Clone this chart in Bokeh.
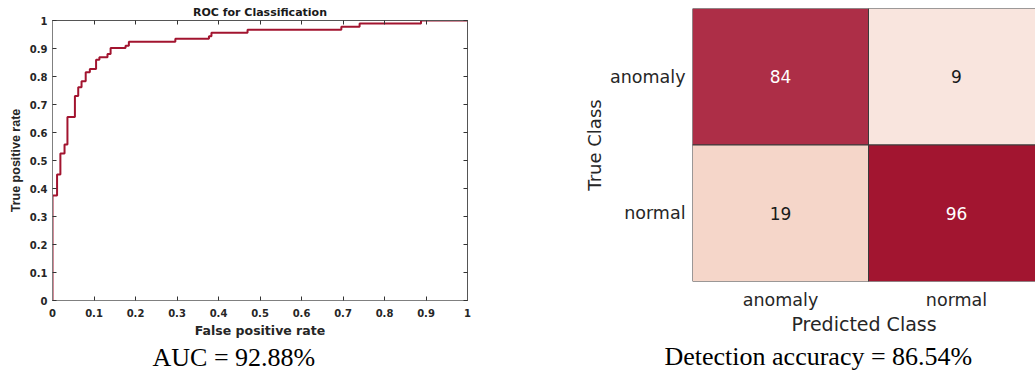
from bokeh.plotting import figure
from bokeh.models import Range1d, LinearAxis, FixedTicker, Title
from bokeh.core.properties import value
from bokeh.embed import file_html
from bokeh.resources import INLINE

# ---------------- ROC data ----------------
fpr = [0.0, 0.0, 0.011, 0.019, 0.029, 0.036, 0.054, 0.062, 0.070, 0.080, 0.090,
       0.105, 0.113, 0.1325, 0.140, 0.176, 0.184, 0.296, 0.377, 0.383, 0.470,
       0.696, 0.740, 0.888, 1.0]
tpr = [0.0, 0.375, 0.45, 0.525, 0.557, 0.655, 0.73, 0.762, 0.783, 0.815, 0.827,
       0.86, 0.869, 0.88, 0.902, 0.91, 0.924, 0.935, 0.944, 0.956, 0.967,
       0.978, 0.989, 1.0, 1.0]
roc_ticks = [0, 0.1, 0.2, 0.3, 0.4, 0.5, 0.6, 0.7, 0.8, 0.9, 1]
roc_tick_labels = ["0", "0.1", "0.2", "0.3", "0.4", "0.5", "0.6", "0.7", "0.8", "0.9", "1"]
roc_title = "ROC for Classification"
roc_xlabel = "False positive rate"
roc_ylabel = "True positive rate"
auc_text = "AUC = 92.88%"

# ---------------- Confusion matrix data ----------------
classes = ["anomaly", "normal"]
true_class = ["anomaly", "anomaly", "normal", "normal"]
pred_class = ["anomaly", "normal", "anomaly", "normal"]
counts = [84, 9, 19, 96]
cm_xlabel = "Predicted Class"
cm_ylabel = "True Class"
acc_text = "Detection accuracy = 86.54%"

# styles
cell_colors = ["#AD2E47", "#F9E5DE", "#F5D6C9", "#A21530"]
cell_text_colors = ["white", "#1a1a1a", "#1a1a1a", "white"]
LINE = "#A2142F"
TXT = "#262626"

# ================= Left: ROC =================
p1 = figure(width=500, height=376, x_range=Range1d(0, 1), y_range=Range1d(0, 1),
            output_backend="svg", toolbar_location=None,
            min_border_left=52, min_border_right=33, min_border_top=20, min_border_bottom=76,
            background_fill_color="white", border_fill_color="white")
p1.styles = {"position": "absolute", "left": "0px", "top": "0px"}
p1.step(fpr, tpr, mode="after", line_color=LINE, line_width=2)
p1.xgrid.visible = False
p1.ygrid.visible = False
p1.outline_line_color = "#555555"

p1.title.text = roc_title
p1.title.align = "center"
p1.title.text_font = "DejaVu Sans"
p1.title.text_font_style = "bold"
p1.title.text_font_size = "11px"
p1.title.text_color = "#1a1a1a"
p1.title.standoff = 4

overrides = {t: l for t, l in zip(roc_ticks, roc_tick_labels)}
for ax in (p1.xaxis[0], p1.yaxis[0]):
    ax.ticker = FixedTicker(ticks=roc_ticks)
    ax.major_label_overrides = overrides
    ax.major_tick_in = 4
    ax.major_tick_out = 0
    ax.major_tick_line_color = "#333333"
    ax.minor_tick_line_color = None
    ax.axis_line_color = "#808080"
    ax.major_label_text_font = "DejaVu Sans"
    ax.major_label_text_font_style = "bold"
    ax.major_label_text_font_size = "10px"
    ax.major_label_text_color = TXT
    ax.axis_label_text_font_style = "bold"
    ax.axis_label_text_color = TXT

p1.xaxis.axis_label = roc_xlabel
p1.xaxis.axis_label_text_font = "DejaVu Sans"
p1.xaxis.axis_label_text_font_size = "12.5px"
p1.xaxis.major_label_standoff = 8
p1.xaxis.axis_label_standoff = 3
p1.yaxis.axis_label = roc_ylabel
p1.yaxis.axis_label_text_font = "Liberation Sans"
p1.yaxis.axis_label_text_font_size = "12.5px"
p1.yaxis.major_label_standoff = 5
p1.yaxis.axis_label_standoff = 4

# tick marks only on the top and right edges (labels not drawn)
for loc in ("above", "right"):
    extra = LinearAxis(ticker=FixedTicker(ticks=roc_ticks),
                       major_label_text_font_size="1px", major_label_text_color=None,
                       major_label_standoff=0,
                       major_tick_in=4, major_tick_out=0, major_tick_line_color="#333333",
                       minor_tick_line_color=None, axis_line_color="#555555")
    p1.add_layout(extra, loc)

p1.add_layout(Title(text=auc_text, align="left", offset=100, standoff=1,
                    text_font="Liberation Serif", text_font_style="normal",
                    text_font_size="26px", text_color="black"), "below")

# ================= Right: confusion matrix =================
n = len(classes)
cx = [classes.index(c) + 0.5 for c in pred_class]
cy = [classes.index(c) + 0.5 for c in true_class]
centers = [i + 0.5 for i in range(n)]

p2 = figure(width=535, height=376, x_range=Range1d(0, 343 / 176), y_range=Range1d(n, 0),
            output_backend="svg", toolbar_location=None,
            min_border_left=192, min_border_right=0, min_border_top=8, min_border_bottom=95,
            background_fill_color="white", border_fill_color="white")
p2.styles = {"position": "absolute", "left": "500px", "top": "0px"}
p2.rect(x=cx, y=cy, width=1, height=1, fill_color=cell_colors, line_color="#3a3a3a", line_width=1)
p2.text(x=cx, y=cy, text=[str(c) for c in counts], text_align="center", text_baseline="middle",
        text_color=cell_text_colors, text_font=value("DejaVu Sans"), text_font_size="17px")
p2.xgrid.visible = False
p2.ygrid.visible = False
p2.outline_line_color = None

for ax in (p2.xaxis[0], p2.yaxis[0]):
    ax.ticker = FixedTicker(ticks=centers)
    ax.major_label_overrides = {c: k for c, k in zip(centers, classes)}
    ax.major_tick_line_color = None
    ax.minor_tick_line_color = None
    ax.axis_line_color = None
    ax.major_label_text_font = "DejaVu Sans"
    ax.major_label_text_font_size = "17.5px"
    ax.major_label_text_color = TXT
    ax.axis_label_text_font = "DejaVu Sans"
    ax.axis_label_text_font_style = "normal"
    ax.axis_label_text_color = TXT

p2.xaxis.axis_label = cm_xlabel
p2.xaxis.axis_label_text_font_size = "19px"
p2.xaxis.major_label_standoff = 2
p2.xaxis.axis_label_standoff = 0
p2.yaxis.axis_label = cm_ylabel
p2.yaxis.axis_label_text_font_size = "18px"
p2.yaxis.major_label_standoff = 1
p2.yaxis.axis_label_standoff = 2

p2.add_layout(Title(text=acc_text, align="left", offset=-28, standoff=4,
                    text_font="Liberation Serif", text_font_style="normal",
                    text_font_size="26px", text_color="black"), "below")

open("out.html", "w").write(file_html([p1, p2], INLINE))
